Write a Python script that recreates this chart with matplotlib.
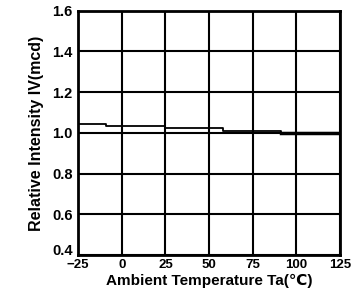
import matplotlib
matplotlib.use("Agg")
import matplotlib.pyplot as plt
import matplotlib.transforms as mtransforms

# temperature breakpoints and relative intensity (step curve)
temp = [-25, -9, 25, 58, 91, 125]
intensity = [1.045, 1.035, 1.025, 1.01, 1.0, 1.0]

xticks = [-25, 0, 25, 50, 75, 100, 125]
yticks = [0.4, 0.6, 0.8, 1.0, 1.2, 1.4, 1.6]
ylabels = ["0.4", "0.6", "0.8", "1.0", "1.2", "1.4", "1.6"]

plt.rcParams['font.family'] = ['Liberation Sans', 'DejaVu Sans']
plt.rcParams['font.weight'] = 'bold'

fig = plt.figure(figsize=(3.52, 2.98), dpi=100)
ax = fig.add_axes([0.222, 0.144, 0.744, 0.82])

ax.step(temp, intensity, where='post', color='black', lw=1.3)
ax.plot(temp[-2:], intensity[-2:], color='black', lw=2.5)

ax.set_xlim(-25, 125)
ax.set_ylim(0.4, 1.6)
ax.set_xticks(xticks)
ax.set_yticks(yticks)
ax.set_yticklabels(ylabels)
ax.grid(True, color='black', lw=1.5)
ax.tick_params(length=0, labelsize=10.5, pad=4)
ax.tick_params(axis='x', labelsize=9.5, pad=3)
for s in ax.spines.values():
    s.set_linewidth(2)

# lift the bottom y label a little so it clears "-25"
lab = ax.get_yticklabels()[0]
lab.set_transform(lab.get_transform() + mtransforms.ScaledTranslation(0, 4 / 72, fig.dpi_scale_trans))

ax.set_xlabel("Ambient Temperature Ta(℃)", fontsize=11, fontweight='bold', labelpad=2)
ax.set_ylabel("Relative Intensity IV(mcd)", fontsize=11.5, fontweight='bold', labelpad=6)

fig.savefig("out.png", dpi=100)
